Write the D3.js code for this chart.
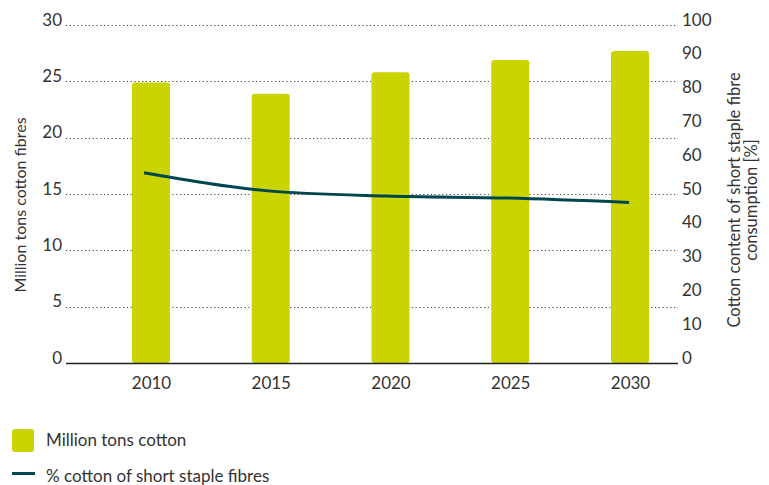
<!DOCTYPE html>
<html>
<head>
<meta charset="utf-8">
<script src="https://cdn.jsdelivr.net/npm/d3@7/dist/d3.min.js"></script>
<style>
  html, body { margin: 0; padding: 0; background: #fff; }
  svg { display: block; }
  text { font-family: Lato, "Open Sans", sans-serif; fill: #333; }
</style>
</head>
<body>
<svg id="chart" width="769" height="485"></svg>
<script>
// Cotton demand outlook
const years = ["2010", "2015", "2020", "2025", "2030"];
const cottonMt = [24.9, 23.9, 25.8, 26.9, 27.7];
const cottonSharePct = [56.3, 51.0, 49.4, 48.8, 47.5];
const leftTicks = [0, 5, 10, 15, 20, 25, 30];
const rightTicks = [0, 10, 20, 30, 40, 50, 60, 70, 80, 90, 100];

const barColor = "#cad400";
const lineColor = "#00464f";

const svg = d3.select("#chart");
const plotLeft = 66, plotRight = 678, plotTop = 25, plotBottom = 363;

const x = d3.scalePoint().domain(years).range([151, 630]);
const xLine = d3.scalePoint().domain(years).range([144, 629]);
const yLeft = d3.scaleLinear().domain([0, 30]).range([plotBottom, plotTop]);
const yRight = d3.scaleLinear().domain([0, 100]).range([plotBottom, plotTop]);

// dotted gridlines
svg.append("g")
  .selectAll("line")
  .data(leftTicks.filter(d => d > 0))
  .join("line")
  .attr("x1", plotLeft).attr("x2", plotRight)
  .attr("y1", d => Math.round(yLeft(d)) + 0.5)
  .attr("y2", d => Math.round(yLeft(d)) + 0.5)
  .attr("stroke", "#444")
  .attr("stroke-width", 1.2)
  .attr("stroke-dasharray", "1.2,2.6");

// left axis
const leftAxis = svg.append("g")
  .attr("transform", `translate(${plotLeft},0)`)
  .call(d3.axisLeft(yLeft).tickValues(leftTicks).tickSize(0).tickPadding(4));
leftAxis.select(".domain").remove();
leftAxis.selectAll("text")
  .attr("dy", "0")
  .attr("y", 0)
  .style("font-size", "17px")
  .style("font-family", "Lato, sans-serif")
  .attr("fill", "#333");

// right axis
const rightAxis = svg.append("g")
  .attr("transform", `translate(${plotRight},0)`)
  .call(d3.axisRight(yRight).tickValues(rightTicks).tickSize(0).tickPadding(4));
rightAxis.select(".domain").remove();
rightAxis.selectAll("text")
  .attr("dy", "0")
  .attr("y", 0)
  .style("font-size", "17px")
  .style("font-family", "Lato, sans-serif")
  .attr("fill", "#333");

// bars
const barW = 38;
svg.append("g")
  .selectAll("rect")
  .data(years.map((y, i) => ({ year: y, v: cottonMt[i] })))
  .join("rect")
  .attr("x", d => x(d.year) - barW / 2)
  .attr("width", barW)
  .attr("y", d => yLeft(d.v))
  .attr("height", d => yLeft(0) - yLeft(d.v))
  .attr("rx", 3)
  .attr("fill", barColor);

// baseline
svg.append("line")
  .attr("x1", plotLeft).attr("x2", plotRight)
  .attr("y1", plotBottom + 0.5).attr("y2", plotBottom + 0.5)
  .attr("stroke", "#222").attr("stroke-width", 1.5);

// x axis labels
const xAxis = svg.append("g")
  .attr("transform", `translate(0,${plotBottom})`)
  .call(d3.axisBottom(x).tickSize(0).tickPadding(14));
xAxis.select(".domain").remove();
xAxis.selectAll("text")
  .style("font-size", "17px")
  .style("font-family", "Lato, sans-serif")
  .attr("fill", "#333");

// share line
const line = d3.line()
  .x((d, i) => xLine(years[i]))
  .y(d => yRight(d))
  .curve(d3.curveMonotoneX);
svg.append("path")
  .datum(cottonSharePct)
  .attr("d", line)
  .attr("fill", "none")
  .attr("stroke", lineColor)
  .attr("stroke-width", 3);

// axis titles
svg.append("text")
  .attr("transform", "translate(26,205) rotate(-90)")
  .attr("text-anchor", "middle")
  .style("font-size", "16px")
  .text("Million tons cotton fibres");

const rt = svg.append("text")
  .attr("transform", "translate(740,200) rotate(-90)")
  .attr("text-anchor", "middle")
  .style("font-size", "16.5px");
rt.append("tspan").attr("x", 0).attr("y", 0).text("Cotton content of short staple fibre");
rt.append("tspan").attr("x", 0).attr("y", 17).text("consumption [%]");

// legend
const legend = svg.append("g");
legend.append("rect")
  .attr("x", 12).attr("y", 429).attr("width", 22).attr("height", 23)
  .attr("rx", 3).attr("fill", barColor);
legend.append("text")
  .attr("x", 46).attr("y", 446)
  .style("font-size", "17px")
  .text("Million tons cotton");
legend.append("line")
  .attr("x1", 12).attr("x2", 35).attr("y1", 473.5).attr("y2", 473.5)
  .attr("stroke", lineColor).attr("stroke-width", 3);
legend.append("text")
  .attr("x", 46).attr("y", 482)
  .style("font-size", "17px")
  .text("% cotton of short staple fibres");
</script>
</body>
</html>
